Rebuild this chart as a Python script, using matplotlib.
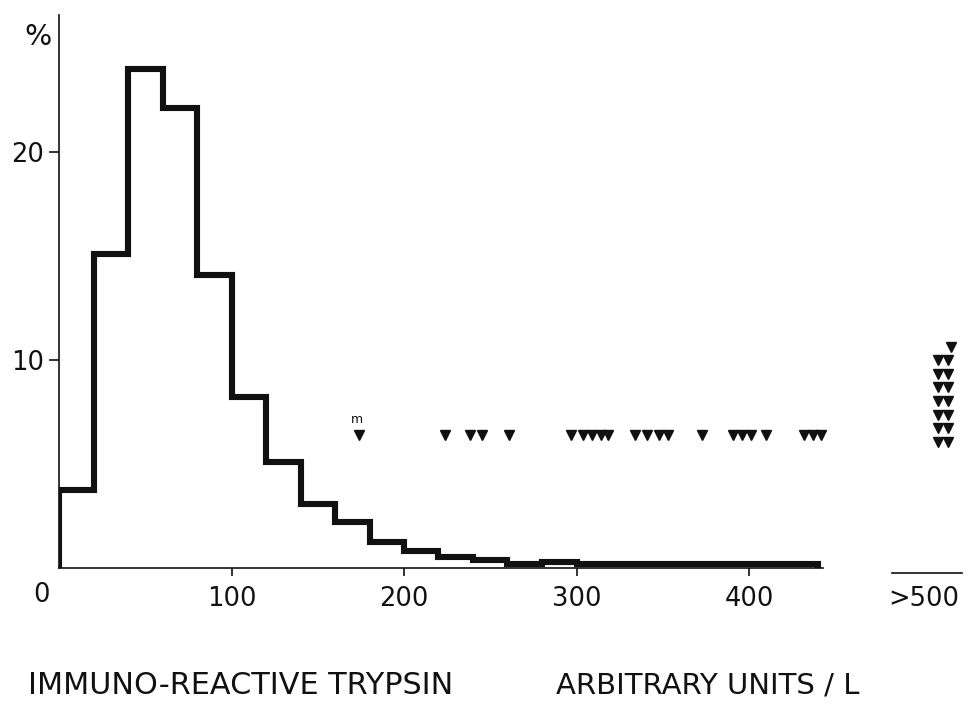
import numpy as np
import matplotlib
matplotlib.use("Agg")
import matplotlib.pyplot as plt

# Distribution of immuno-reactive trypsin (% of subjects per 20-unit class)
bin_edges = [0, 20, 40, 60, 80, 100, 120, 140, 160, 180, 200, 220,
             240, 260, 280, 300, 320, 340, 360, 380, 400, 420, 440]
percent = [3.75, 15.1, 24.0, 22.1, 14.1, 8.2, 5.1, 3.1, 2.2, 1.25, 0.8,
           0.55, 0.4, 0.2, 0.3, 0.2, 0.2, 0.2, 0.2, 0.2, 0.2, 0.2]

# Individual patient values (arbitrary units / L); first one marked "m"
patient_values = [174, 224, 238, 245, 261, 297, 304, 309, 314, 318, 334,
                  341, 348, 353, 373, 391, 396, 401, 410, 432, 437, 442]
n_over_500 = 15

x_ticks = [100, 200, 300, 400]
x_ticklabels = ["100", "200", "300", "400"]
y_ticks = [10, 20]
y_ticklabels = ["10", "20"]

INK = "#111111"
FONT = "DejaVu Sans"

W, H = 966, 703
fig = plt.figure(figsize=(W / 100, H / 100), dpi=100)
fig.patch.set_facecolor("white")

# axes: origin at pixel (59, 568), 1.725 px per unit on x, 20.8 px per % on y
x0_px, y0_px = 59, 568
ax = fig.add_axes([x0_px / W, (H - y0_px) / H, (W - x0_px) / W, y0_px / H])
ax.set_xlim(0, (W - x0_px) / 1.725)
ax.set_ylim(0, y0_px / 20.8)
ax.patch.set_alpha(0)

for s in ("top", "right"):
    ax.spines[s].set_visible(False)
ax.spines["left"].set_bounds(0, 26.6)
ax.spines["bottom"].set_bounds(0, bin_edges[-1] + 3)
for s in ("left", "bottom"):
    ax.spines[s].set_linewidth(1.2)
    ax.spines[s].set_color(INK)

ax.set_xticks(x_ticks)
ax.set_xticklabels(x_ticklabels, fontsize=18.5, family=FONT, color=INK)
ax.set_yticks(y_ticks)
ax.set_yticklabels(y_ticklabels, fontsize=18.5, family=FONT, color=INK)
ax.tick_params(axis="x", direction="out", length=6, width=1.2, pad=7, colors=INK)
ax.tick_params(axis="y", direction="out", length=7.5, width=1.2, pad=3, colors=INK)

# histogram outline
ax.stairs(percent, bin_edges, baseline=0, fill=False, color=INK,
          linewidth=4.4, joinstyle="miter", zorder=3)

# patients within the measured range
row_level = 6.4
ax.plot(patient_values, [row_level] * len(patient_values), linestyle="none",
        marker="v", markersize=7.0, color=INK, clip_on=False, zorder=4)
ax.text(patient_values[0] - 1, row_level + 0.75, "m", fontsize=9, family=FONT,
        ha="center", va="center", color=INK)

# patients above 500, stacked in pairs
stack_x = [509.6, 515.4]
stack_base, stack_step = 6.06, 0.655
sx, sy = [], []
for i in range(n_over_500):
    row, col = divmod(i, 2)
    if i == n_over_500 - 1 and n_over_500 % 2 == 1:
        sx.append(517.0)
    else:
        sx.append(stack_x[col])
    sy.append(stack_base + row * stack_step)
ax.plot(sx, sy, linestyle="none", marker="v", markersize=7.0, color=INK,
        clip_on=False, zorder=4)

# separate axis piece for the ">500" class
ax.plot([483, 523.5], [-0.24, -0.24], color=INK, linewidth=1.2, clip_on=False)
ax.text(501.4, -1.5, ">500", fontsize=18.5, family=FONT, ha="center",
        va="center", color=INK, clip_on=False)

# origin label and unit
ax.text(-9.9, -1.3, "0", fontsize=18.5, family=FONT, ha="center",
        va="center", color=INK, clip_on=False)
fig.text(38 / W, 1 - 37 / H, "%", fontsize=20.5, family=FONT, ha="center",
         va="center", color=INK)

# axis title
fig.text(28 / W, 1 - 686 / H, "IMMUNO-REACTIVE TRYPSIN", fontsize=21.8,
         family=FONT, ha="left", va="center", color=INK)
fig.text(556 / W, 1 - 686 / H, "ARBITRARY UNITS / L", fontsize=21.0,
         family=FONT, ha="left", va="center", color=INK)

fig.savefig("out.png", dpi=100, facecolor="white")
